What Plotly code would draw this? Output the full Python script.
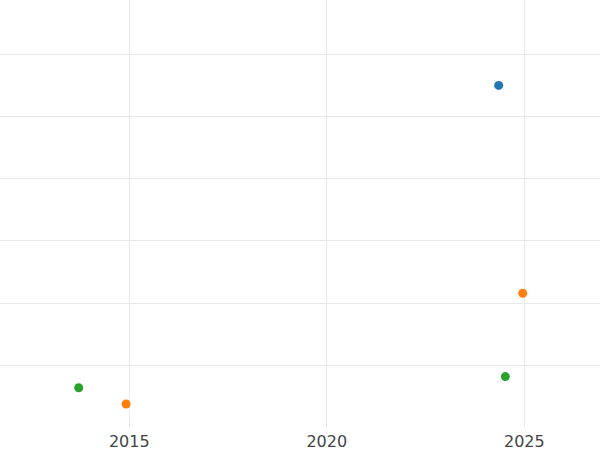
import plotly.graph_objects as go

series_names = ["A", "B", "C"]
series_colors = ["#1f77b4", "#ff7f0e", "#2ca02c"]
series_x = [
    [2024.35],
    [2024.96, 2014.92],
    [2013.72, 2024.52],
]
series_y = [
    [4.50],
    [1.16, -0.62],
    [-0.36, -0.18],
]
x_ticks = [2015, 2020, 2025]

fig = go.Figure()
for name, color, xs, ys in zip(series_names, series_colors, series_x, series_y):
    fig.add_trace(go.Scatter(x=xs, y=ys, mode="markers", name=name,
                             marker=dict(color=color, size=9)))

fig.update_layout(
    width=600, height=450,
    margin=dict(l=0, r=0, t=0, b=23),
    paper_bgcolor="white", plot_bgcolor="white",
    showlegend=False,
    font=dict(family="DejaVu Sans", size=16, color="#444"),
)
fig.update_xaxes(range=[2011.727, 2026.916], tickvals=x_ticks, ticktext=[str(t) for t in x_ticks],
                 showgrid=True, gridcolor="#e8e8e8", gridwidth=1, zeroline=False,
                 showline=False, ticks="", automargin=False, ticklabelstandoff=3)
fig.update_yaxes(range=[-0.99, 5.873], dtick=1, tick0=0, showticklabels=False,
                 showgrid=True, gridcolor="#e8e8e8", gridwidth=1, zeroline=False,
                 showline=False, ticks="", automargin=False)

fig.write_html("out.html", config={"displayModeBar": False},
               post_script="document.body.style.margin='0';document.body.style.overflow='hidden';")
